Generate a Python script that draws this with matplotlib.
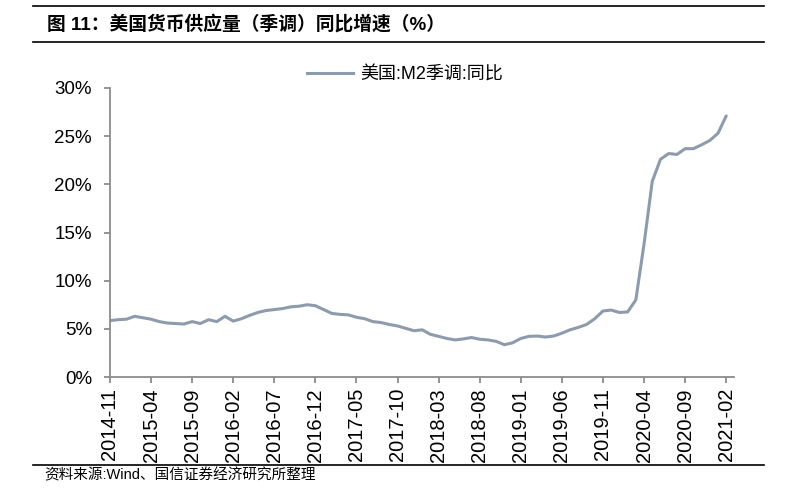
import pandas as pd
import matplotlib
matplotlib.use("Agg")
from matplotlib import pyplot as plt
from matplotlib.lines import Line2D

plt.rcParams['font.family'] = ['Liberation Sans', 'Noto Sans CJK SC', 'DejaVu Sans']

# monthly categories 2014-11 .. 2021-02
months = [p.strftime('%Y-%m') for p in pd.period_range('2014-11', '2021-02', freq='M')]

# US M2 (seasonally adjusted) YoY, %
m2_yoy = [5.85, 5.95, 6.0, 6.3, 6.15, 6.0, 5.75, 5.6, 5.55, 5.5,
          5.75, 5.55, 5.95, 5.75, 6.3, 5.8, 6.05, 6.4, 6.7, 6.9,
          7.0, 7.1, 7.28, 7.35, 7.5, 7.4, 7.0, 6.6, 6.5, 6.45,
          6.2, 6.05, 5.75, 5.65, 5.45, 5.3, 5.05, 4.8, 4.9, 4.43,
          4.22, 4.0, 3.85, 3.95, 4.1, 3.92, 3.85, 3.7, 3.35, 3.55,
          4.0, 4.22, 4.25, 4.15, 4.25, 4.55, 4.9, 5.15, 5.45, 6.05,
          6.85, 6.95, 6.7, 6.75, 8.0, 13.8, 20.3, 22.6, 23.2, 23.1,
          23.7, 23.7, 24.1, 24.55, 25.3, 27.1]

yticks = [0, 5, 10, 15, 20, 25, 30]
series_name = '美国:M2季调:同比'
title = '图 11：美国货币供应量（季调）同比增速（%）'
source = '资料来源:Wind、国信证券经济研究所整理'

line_color = '#8E9BAD'
axis_color = '#8C8C8C'

fig = plt.figure(figsize=(7.96, 4.88), dpi=100)
ax = fig.add_axes([110 / 796, 1 - 377 / 488, 624 / 796, 289 / 488])

x = list(range(len(months)))
ax.plot(x, m2_yoy, color=line_color, linewidth=2.2,
        solid_capstyle='round', solid_joinstyle='round')

ax.set_ylim(0, 30)
ax.set_xlim(0, 75.95)
ax.set_yticks(yticks)
ax.set_yticklabels(['%d%%' % v for v in yticks])
ax.set_xticks(x[::5])
ax.set_xticklabels(months[::5], rotation=90)

for s in ['top', 'right']:
    ax.spines[s].set_visible(False)
for s in ['left', 'bottom']:
    ax.spines[s].set_color(axis_color)
    ax.spines[s].set_linewidth(1.3)

ax.tick_params(axis='y', length=4, width=1.3, color=axis_color, labelsize=13.5, pad=9)
ax.tick_params(axis='x', length=4, width=1.3, color=axis_color, labelsize=14.5, pad=4)

# legend
handle = Line2D([], [], color=line_color, linewidth=2.2)
fig.legend([handle], [series_name], loc='center', bbox_to_anchor=(405 / 796, 1 - 75 / 488),
           frameon=False, fontsize=13, handlelength=2.6, handletextpad=0.4)

# header / footer rules and texts
for yy in [6, 42, 465]:
    fig.add_artist(Line2D([33 / 796, 764 / 796], [1 - yy / 488, 1 - yy / 488],
                          color='black', linewidth=1.2))
fig.text(47 / 796, 1 - 24 / 488, title, fontsize=13.5, fontweight='bold', va='center', ha='left')
fig.text(44 / 796, 1 - 475 / 488, source, fontsize=10.5, va='center', ha='left')

fig.savefig('out.png', dpi=100)
